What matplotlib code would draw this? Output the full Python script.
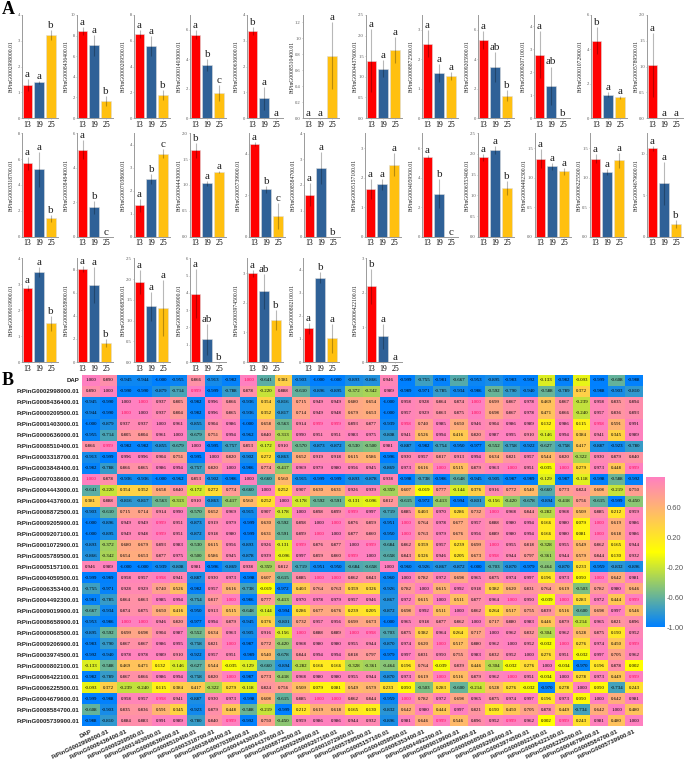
#!/usr/bin/env python3
import numpy as np
import matplotlib
matplotlib.use("Agg")
import matplotlib.pyplot as plt
from matplotlib.colors import LinearSegmentedColormap, Normalize
from matplotlib.cm import ScalarMappable

### Bar data ###
stages = ["13", "19", "25"]

bar_genes = [
    "FtPinG0002998000.01", "FtPinG0008436400.01", "FtPinG0000209500.01", "FtPinG0001403000.01",
    "FtPinG0000636000.01", "FtPinG0008510400.01", "FtPinG0004437600.01", "FtPinG0008872500.01",
    "FtPinG0009205900.01", "FtPinG0009207100.01", "FtPinG0001072900.01", "FtPinG0005789500.01",
    "FtPinG0003318700.01", "FtPinG0003848400.01", "FtPinG0007038600.01", "FtPinG0004443000.01",
    "FtPinG0005739900.01", "FtPinG0008584700.01", "FtPinG0005157100.01", "FtPinG0004059500.01",
    "FtPinG0006353400.01", "FtPinG0004492300.01", "FtPinG0006225500.01", "FtPinG0004679600.01",
    "FtPinG0009019900.01", "FtPinG0008658900.01", "FtPinG0000068500.01", "FtPinG0009206900.01",
    "FtPinG0003974500.01", "FtPinG0000802100.01", "FtPinG0006422100.01",
]
bar_means = [
    [1.29, 1.39, 3.22], [8.42, 7.06, 1.61], [6.53, 5.60, 1.78], [5.67, 3.60, 1.70],
    [3.37, 0.76, 0.00], [0.00, 0.00, 0.78], [1.39, 1.20, 1.65], [2.53, 1.53, 1.43],
    [5.30, 3.46, 1.51], [2.77, 1.41, 0.00], [4.50, 1.35, 1.21], [1.03, 0.00, 0.00],
    [5.68, 5.20, 1.42], [5.05, 1.70, 0.00], [1.36, 2.52, 3.61], [1.67, 1.03, 1.26],
    [4.48, 2.29, 1.02], [1.63, 2.66, 0.00], [1.61, 1.78, 2.44], [5.42, 2.91, 0.00],
    [1.92, 2.10, 1.18], [1.32, 1.19, 1.11], [1.32, 1.10, 1.29], [10.7, 6.44, 1.50],
    [2.85, 3.48, 1.49], [8.07, 6.67, 1.64], [1.93, 1.34, 1.30], [3.96, 1.32, 0.00],
    [2.99, 2.38, 1.43], [1.46, 3.66, 1.04], [2.19, 0.74, 0.00],
]
bar_errs = [
    [0.23, 0.06, 0.18], [0.40, 1.00, 0.48], [0.30, 0.80, 0.42], [0.28, 0.40, 0.57],
    [0.15, 0.43, 0.00], [0.00, 0.00, 0.42], [0.77, 0.21, 0.32], [0.47, 0.30, 0.15],
    [0.58, 1.00, 0.37], [1.03, 0.84, 0.00], [0.80, 0.15, 0.10], [0.63, 0.00, 0.00],
    [0.50, 1.38, 0.26], [0.56, 0.39, 0.00], [0.27, 0.23, 0.19], [0.15, 0.05, 0.02],
    [0.10, 0.16, 0.63], [0.44, 0.63, 0.00], [0.34, 0.19, 0.40], [0.10, 0.98, 0.00],
    [0.08, 0.10, 0.17], [0.16, 0.06, 0.06], [0.08, 0.05, 0.12], [0.30, 2.60, 0.50],
    [0.13, 0.20, 0.30], [0.23, 1.55, 0.38], [0.28, 0.34, 0.68], [1.44, 0.89, 0.00],
    [0.12, 0.59, 0.34], [0.23, 0.25, 0.63], [0.50, 0.37, 0.00],
]
bar_letters = [
    "a a b", "a a b", "a a b", "a b c", "b a a", "a a a", "a a a", "a a a",
    "a ab b", "a ab b", "b a a", "a a a",
    "a a b", "a b c", "a b c", "b a a", "a b c", "a a b", "a a a", "a b c",
    "a a b", "a a a", "a a a", "a a b",
    "a a b", "a a b", "a a a", "a ab b", "a ab b", "a b a", "b a a",
]
y_tops = [4, 10, 8, 7, 4, 1.29, 2.5, 3.5, 7, 4.5, 6, 2,
          8, 6, 4.5, 2, 5, 4, 3.5, 7, 2.5, 1.75, 1.75, 12.5,
          4, 9, 2.5, 6, 3.5, 4.5, 3]
y_steps = [1, 2, 2, 2, 1, 0.2, 0.5, 1, 2, 1, 2, 0.5,
           2, 2, 1, 0.5, 2, 1, 1, 2, 0.5, 0.5, 0.5, 5,
           1, 2, 0.5, 1, 1, 1, 1]

### Correlation data ###
heat_labels = [
    "DAP", "FtPinG0002998000.01", "FtPinG0008436400.01", "FtPinG0000209500.01",
    "FtPinG0001403000.01", "FtPinG0000636000.01", "FtPinG0008510400.01", "FtPinG0003318700.01",
    "FtPinG0003848400.01", "FtPinG0007038600.01", "FtPinG0004443000.01", "FtPinG0004437600.01",
    "FtPinG0008872500.01", "FtPinG0009205900.01", "FtPinG0009207100.01", "FtPinG0001072900.01",
    "FtPinG0005789500.01", "FtPinG0005157100.01", "FtPinG0004059500.01", "FtPinG0006353400.01",
    "FtPinG0004492300.01", "FtPinG0009019900.01", "FtPinG0008658900.01", "FtPinG0000068500.01",
    "FtPinG0009206900.01", "FtPinG0003974500.01", "FtPinG0000802100.01", "FtPinG0006422100.01",
    "FtPinG0006225500.01", "FtPinG0004679600.01", "FtPinG0008584700.01", "FtPinG0005739900.01",
]
corr = [
    [1.000, 0.890, -0.945, -0.944, -1.000, -0.955, 0.866, -0.913, -0.982, 1.000, -0.641, 0.381, -0.903, -1.000, -1.000, -0.893, -0.866, 0.946, -0.999, -0.755, -0.981, -0.667, -0.953, -0.895, -0.983, -0.992, -0.133, -0.982, -0.093, -0.999, -0.608, -0.988],
    [0.890, 1.000, -0.990, -0.990, -0.879, -0.714, 0.999, -0.999, -0.788, 0.878, -0.220, 0.888, -0.610, -0.896, -0.895, -0.372, -0.342, 0.989, -0.989, -0.971, -0.785, -0.934, -0.986, -0.592, -0.790, -0.940, -0.588, -0.789, 0.372, -0.988, -0.903, -0.810],
    [-0.945, -0.990, 1.000, 1.000, 0.937, 0.805, -0.982, 0.996, 0.866, -0.936, 0.354, -0.816, 0.715, 0.949, 0.949, 0.680, 0.654, -1.000, 0.958, 0.928, 0.864, 0.874, 1.000, 0.699, 0.867, 0.978, 0.469, 0.867, -0.239, 0.958, 0.835, 0.894],
    [-0.944, -0.990, 1.000, 1.000, 0.937, 0.804, -0.982, 0.996, 0.865, -0.936, 0.352, -0.817, 0.714, 0.949, 0.948, 0.679, 0.653, -1.000, 0.957, 0.929, 0.863, 0.875, 1.000, 0.698, 0.867, 0.978, 0.471, 0.866, -0.240, 0.957, 0.836, 0.893],
    [-1.000, -0.879, 0.937, 0.937, 1.000, 0.961, -0.855, 0.904, 0.986, -1.000, 0.658, -0.563, 0.914, 0.999, 0.999, 0.893, 0.877, -0.939, 0.998, 0.740, 0.985, 0.650, 0.946, 0.904, 0.986, 0.989, 0.132, 0.986, 0.115, 0.998, 0.591, 0.991],
    [-0.955, -0.714, 0.805, 0.804, 0.961, 1.000, -0.679, 0.751, 0.994, -0.962, 0.840, -0.313, 0.990, 0.951, 0.951, 0.983, 0.975, -0.808, 0.941, 0.526, 0.994, 0.416, 0.820, 0.987, 0.995, 0.910, -0.146, 0.994, 0.384, 0.941, 0.345, 0.989],
    [0.866, 0.999, -0.982, -0.982, -0.855, -0.679, 1.000, -0.995, -0.757, 0.853, -0.172, 0.910, -0.570, -0.873, -0.872, -0.530, -0.500, 0.981, -0.887, -0.982, -0.754, -0.950, -0.977, -0.552, -0.758, -0.922, -0.627, -0.758, 0.417, -0.887, -0.923, -0.780],
    [-0.913, -0.999, 0.996, 0.996, 0.904, 0.751, -0.995, 1.000, 0.820, -0.902, 0.272, -0.863, 0.652, 0.919, 0.918, 0.615, 0.586, -0.996, 0.930, 0.957, 0.817, 0.913, 0.994, 0.634, 0.821, 0.957, 0.544, 0.820, -0.322, 0.930, 0.879, 0.840],
    [-0.982, -0.788, 0.866, 0.865, 0.986, 0.994, -0.757, 0.820, 1.000, -0.986, 0.774, -0.417, 0.969, 0.979, 0.980, 0.956, 0.945, -0.869, 0.973, 0.616, 1.000, 0.515, 0.879, 0.963, 1.000, 0.951, -0.035, 1.000, 0.279, 0.973, 0.448, 0.999],
    [1.000, 0.878, -0.936, -0.936, -1.000, -0.962, 0.853, -0.902, -0.986, 1.000, -0.660, 0.560, -0.915, -0.999, -0.999, -0.893, -0.878, 0.938, -0.998, -0.738, -0.986, -0.648, -0.945, -0.905, -0.987, -0.989, -0.129, -0.987, -0.118, -0.998, -0.588, -0.992],
    [-0.641, -0.220, 0.354, 0.352, 0.658, 0.840, -0.172, 0.272, 0.774, -0.660, 1.000, 0.252, 0.907, 0.630, 0.631, 0.926, 0.939, -0.359, 0.607, -0.019, 0.777, -0.144, 0.376, 0.916, 0.772, 0.540, -0.660, 0.773, 0.824, 0.608, -0.219, 0.750],
    [0.381, 0.888, -0.816, -0.817, -0.563, -0.313, 0.910, -0.863, -0.417, 0.560, 0.252, 1.000, -0.178, -0.592, -0.591, -0.131, -0.096, 0.812, -0.615, -0.972, -0.413, -0.994, -0.801, -0.156, -0.420, -0.678, -0.894, -0.418, 0.756, -0.615, -0.999, -0.450],
    [-0.903, -0.610, 0.715, 0.714, 0.914, 0.990, -0.570, 0.652, 0.969, -0.915, 0.907, -0.178, 1.000, 0.898, 0.899, 0.999, 0.997, -0.719, 0.885, 0.403, 0.970, 0.286, 0.732, 1.000, 0.968, 0.844, -0.282, 0.968, 0.509, 0.885, 0.212, 0.959],
    [-1.000, -0.896, 0.949, 0.949, 0.999, 0.951, -0.873, 0.919, 0.979, -0.999, 0.630, -0.592, 0.898, 1.000, 1.000, 0.876, 0.859, -0.951, 1.000, 0.764, 0.978, 0.677, 0.957, 0.888, 0.980, 0.994, 0.166, 0.980, 0.079, 1.000, 0.619, 0.986],
    [-1.000, -0.895, 0.949, 0.948, 0.999, 0.951, -0.872, 0.918, 0.980, -0.999, 0.631, -0.591, 0.899, 1.000, 1.000, 0.877, 0.860, -0.950, 1.000, 0.763, 0.979, 0.676, 0.956, 0.889, 0.980, 0.994, 0.166, 0.980, 0.081, 1.000, 0.618, 0.986],
    [-0.893, -0.372, 0.680, 0.679, 0.893, 0.983, -0.530, 0.615, 0.956, -0.893, 0.926, -0.131, 0.999, 0.876, 0.877, 1.000, 0.999, -0.684, 0.862, 0.359, 0.957, 0.239, 0.699, 1.000, 0.955, 0.818, -0.328, 0.955, 0.549, 0.862, 0.165, 0.944],
    [-0.866, -0.342, 0.654, 0.653, 0.877, 0.975, -0.500, 0.586, 0.945, -0.878, 0.939, -0.096, 0.997, 0.859, 0.860, 0.999, 1.000, -0.658, 0.843, 0.326, 0.946, 0.205, 0.673, 0.998, 0.944, 0.797, -0.361, 0.944, 0.579, 0.844, 0.130, 0.932],
    [0.946, 0.989, -1.000, -1.000, -0.939, -0.808, 0.981, -0.996, -0.869, 0.938, -0.359, 0.812, -0.719, -0.951, -0.950, -0.684, -0.658, 1.000, -0.960, -0.926, -0.867, -0.872, -1.000, -0.703, -0.870, -0.979, -0.464, -0.870, 0.233, -0.959, -0.832, -0.896],
    [-0.999, -0.989, 0.958, 0.957, 0.998, 0.941, -0.887, 0.930, 0.973, -0.998, 0.607, -0.615, 0.885, 1.000, 1.000, 0.862, 0.843, -0.960, 1.000, 0.782, 0.972, 0.698, 0.965, 0.875, 0.974, 0.997, 0.196, 0.973, 0.050, 1.000, 0.642, 0.981],
    [-0.755, -0.971, 0.928, 0.929, 0.740, 0.526, -0.982, 0.957, 0.616, -0.738, -0.019, -0.972, 0.403, 0.764, 0.763, 0.359, 0.326, -0.926, 0.782, 1.000, 0.615, 0.992, 0.918, 0.382, 0.620, 0.831, 0.764, 0.619, -0.503, 0.782, 0.980, 0.646],
    [-0.981, -0.785, 0.864, 0.863, 0.985, 0.994, -0.754, 0.817, 1.000, -0.986, 0.777, -0.413, 0.970, 0.978, 0.979, 0.957, 0.946, -0.867, 0.972, 0.615, 1.000, 0.511, 0.877, 0.964, 1.000, 0.950, -0.039, 1.000, 0.283, 0.972, 0.444, 0.999],
    [-0.667, -0.934, 0.874, 0.875, 0.650, 0.416, -0.950, 0.913, 0.515, -0.648, -0.144, -0.994, 0.286, 0.677, 0.676, 0.239, 0.205, -0.872, 0.698, 0.992, 0.511, 1.000, 0.862, 0.264, 0.517, 0.755, 0.839, 0.516, -0.600, 0.698, 0.997, 0.546],
    [-0.953, -0.986, 1.000, 1.000, 0.946, 0.820, -0.977, 0.994, 0.879, -0.945, 0.376, -0.801, 0.732, 0.957, 0.956, 0.699, 0.673, -1.000, 0.965, 0.918, 0.877, 0.862, 1.000, 0.717, 0.880, 0.983, 0.446, 0.879, -0.214, 0.965, 0.821, 0.896],
    [-0.895, -0.592, 0.699, 0.698, 0.904, 0.987, -0.552, 0.634, 0.963, -0.905, 0.916, -0.156, 1.000, 0.888, 0.889, 1.000, 0.998, -0.703, 0.875, 0.382, 0.964, 0.264, 0.717, 1.000, 0.962, 0.832, -0.304, 0.962, 0.528, 0.875, 0.190, 0.952],
    [-0.983, -0.790, 0.867, 0.867, 0.986, 0.995, -0.758, 0.821, 1.000, -0.987, 0.772, -0.420, 0.968, 0.980, 0.980, 0.955, 0.944, -0.870, 0.974, 0.620, 1.000, 0.517, 0.880, 0.962, 1.000, 0.952, -0.032, 1.000, 0.276, 0.974, 0.450, 0.999],
    [-0.992, -0.940, 0.978, 0.978, 0.989, 0.910, -0.922, 0.957, 0.951, -0.989, 0.540, -0.678, 0.844, 0.994, 0.994, 0.818, 0.797, -0.979, 0.997, 0.831, 0.950, 0.755, 0.983, 0.832, 0.952, 1.000, 0.276, 0.951, -0.032, 0.997, 0.705, 0.962],
    [-0.133, -0.588, 0.469, 0.471, 0.132, -0.146, -0.627, 0.544, -0.035, -0.129, -0.660, -0.894, -0.282, 0.166, 0.166, -0.328, -0.361, -0.464, 0.196, 0.764, -0.039, 0.839, 0.446, -0.304, -0.032, 0.276, 1.000, -0.034, -0.970, 0.196, 0.878, 0.002],
    [-0.982, -0.789, 0.867, 0.866, 0.986, 0.994, -0.758, 0.820, 1.000, -0.987, 0.773, -0.418, 0.968, 0.980, 0.980, 0.955, 0.944, -0.870, 0.973, 0.619, 1.000, 0.516, 0.879, 0.962, 1.000, 0.951, -0.034, 1.000, 0.278, 0.973, 0.449, 0.999],
    [-0.093, 0.372, -0.239, -0.240, 0.115, 0.384, 0.417, -0.322, 0.279, -0.118, 0.824, 0.756, 0.509, 0.079, 0.081, 0.549, 0.579, 0.233, 0.050, -0.503, 0.283, -0.600, -0.214, 0.528, 0.276, -0.032, -0.970, 0.278, 1.000, 0.050, -0.734, 0.243],
    [-0.999, -0.988, 0.958, 0.957, 0.998, 0.941, -0.887, 0.930, 0.973, -0.998, 0.608, -0.615, 0.885, 1.000, 1.000, 0.862, 0.844, -0.959, 1.000, 0.782, 0.972, 0.698, 0.965, 0.875, 0.974, 0.997, 0.196, 0.973, 0.050, 1.000, 0.642, 0.981],
    [-0.608, -0.903, 0.835, 0.836, 0.591, 0.345, -0.923, 0.879, 0.448, -0.588, -0.219, -0.999, 0.212, 0.619, 0.618, 0.165, 0.130, -0.832, 0.642, 0.980, 0.444, 0.997, 0.821, 0.190, 0.450, 0.705, 0.878, 0.449, -0.734, 0.642, 1.000, 0.480],
    [-0.988, -0.810, 0.884, 0.883, 0.991, 0.989, -0.780, 0.840, 0.999, -0.992, 0.750, -0.450, 0.959, 0.986, 0.986, 0.944, 0.932, -0.896, 0.981, 0.646, 0.999, 0.546, 0.896, 0.952, 0.999, 0.962, 0.002, 0.999, 0.243, 0.981, 0.480, 1.000],
]
cbar_ticks = [-1.0, -0.6, -0.2, 0.2, 0.6]

### Layout (pixels of the 685x761 picture) ###
W, H = 685, 761
bar_colors = ["#ff0000", "#2f6197", "#ffc010"]
axis_grey = "#9a9a9a"
panel_lefts = [22, 77, 134, 190, 247, 303, 366, 422, 478, 534, 591, 647,
               22, 77, 134, 190, 249, 304, 365, 422, 478, 535, 590, 647,
               22, 77, 134, 190, 247, 303, 366]
row_spans = [(15, 118)] * 12 + [(133.3, 236.7)] * 12 + [(258.3, 362)] * 7
panel_w = 36.0
bar_pitch = 11.8
bar_first = 5.5


def pxAxes(fig, left, top, right, bottom):
    return fig.add_axes([left / W, 1 - bottom / H, (right - left) / W, (bottom - top) / H])


plt.rcParams["font.family"] = "Liberation Serif"
fig = plt.figure(figsize=(W / 100, H / 100), dpi=100)

### Panel A ###
for i, gene in enumerate(bar_genes):
    top, bottom = row_spans[i]
    ax = pxAxes(fig, panel_lefts[i], top, panel_lefts[i] + panel_w, bottom)
    x = np.arange(3)
    means = np.array(bar_means[i])
    errs = np.array(bar_errs[i])

    ax.bar(x, means, width=0.82, color=bar_colors, edgecolor="#dddddd", linewidth=0.4, zorder=2)
    ax.errorbar(x, means, yerr=errs, fmt="none", ecolor=(0, 0, 0, 0.28), elinewidth=0.8, capsize=0, zorder=3)

    for xi, m, e, letter in zip(x, means, errs, bar_letters[i].split()):
        ax.annotate(letter, (xi, m + e), xytext=(0, 0), textcoords="offset points",
                    ha="center", va="bottom", fontsize=8, color="#222222", annotation_clip=False)

    ax.set_xlim(-bar_first / bar_pitch, (panel_w - bar_first) / bar_pitch)
    ax.set_ylim(0, y_tops[i])
    ax.set_xticks(x)
    ax.set_xticklabels(stages, fontsize=5.6)

    step = y_steps[i]
    yt = np.arange(0, y_tops[i] + 1e-6, step)
    ax.set_yticks(yt)
    if step < 1:
        ax.set_yticklabels(["%.1f" % v for v in yt], fontsize=3.3, color="#555555")
    else:
        ax.set_yticklabels(["%d" % v for v in yt], fontsize=3.3, color="#555555")

    ax.tick_params(axis="x", length=1, width=0.4, pad=1, color=axis_grey)
    ax.tick_params(axis="y", length=1, width=0.4, pad=0.6, color=axis_grey)
    ax.spines["top"].set_visible(False)
    ax.spines["right"].set_visible(False)
    ax.spines["left"].set_color(axis_grey)
    ax.spines["bottom"].set_color(axis_grey)
    ax.spines["left"].set_linewidth(0.7)
    ax.spines["bottom"].set_linewidth(0.7)
    ax.patch.set_alpha(0)

    ax.set_ylabel(gene, fontsize=4.1, color="#222222")
    ax.yaxis.set_label_coords(-8 / panel_w, 0.5)

fig.text(2 / W, 1 - 14 / H, "A", fontsize=13, fontweight="bold", ha="left", va="baseline")
fig.text(2 / W, 1 - 385 / H, "B", fontsize=13, fontweight="bold", ha="left", va="baseline")

### Panel B ###
heat_cmap = LinearSegmentedColormap.from_list("corr", ["#0080ff", "#ffff00", "#ff80c0"])
norm = Normalize(-1, 1)
corr_arr = np.array(corr)
n = len(heat_labels)

ax = pxAxes(fig, 82, 375, 643, 726)
ax.pcolormesh(np.arange(n + 1), np.arange(n + 1), corr_arr, cmap=heat_cmap, norm=norm, linewidth=0)
ax.set_xlim(0, n)
ax.set_ylim(n, 0)
for spine in ax.spines.values():
    spine.set_visible(False)

for r in range(n):
    for c in range(n):
        val = corr_arr[r, c]
        txt_col = "#ff0050" if (val >= 0.998 and r != c) else "#000000"
        ax.text(c + 0.5, r + 0.5, "%.3f" % val, ha="center", va="center", fontsize=3.5, color=txt_col)

ax.set_yticks(np.arange(n) + 0.5)
ax.set_yticklabels(heat_labels, fontsize=4.4, fontweight="bold", family="Liberation Sans", color="#222222")
ax.set_xticks(np.arange(n) + 0.5)
ax.set_xticklabels(heat_labels, fontsize=4.4, fontweight="bold", family="Liberation Sans", color="#222222",
                   rotation=25, ha="right", rotation_mode="anchor")
ax.tick_params(axis="both", length=0, pad=2)

cax = pxAxes(fig, 646, 477, 665, 627)
cb = fig.colorbar(ScalarMappable(norm=norm, cmap=heat_cmap), cax=cax)
cb.outline.set_visible(False)
cb.set_ticks(cbar_ticks)
cb.set_ticklabels(["%.2f" % v for v in cbar_ticks])
cb.ax.tick_params(length=0, pad=1.5, labelsize=5.4, labelcolor="#555555")
for lab in cb.ax.get_yticklabels():
    lab.set_family("Liberation Sans")

plt.savefig("out.png", dpi=100)
